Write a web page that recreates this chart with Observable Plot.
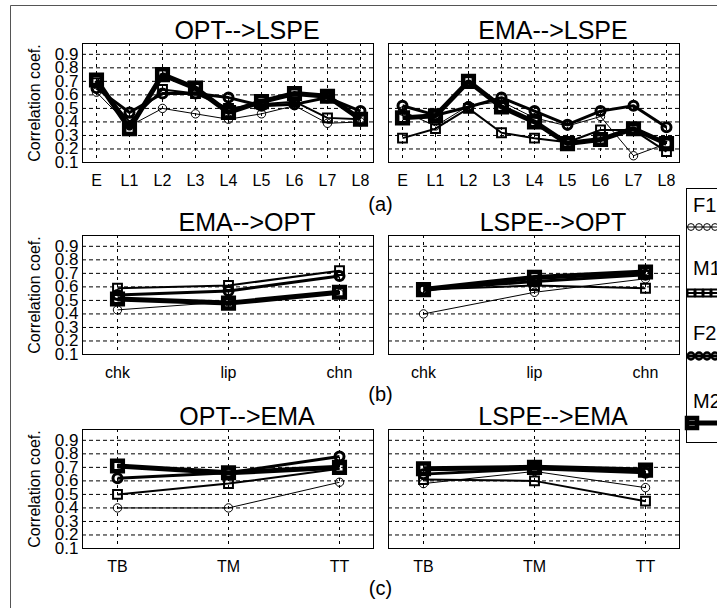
<!DOCTYPE html>
<html><head><meta charset="utf-8">
<script src="https://cdn.jsdelivr.net/npm/d3@7"></script>
<script src="https://cdn.jsdelivr.net/npm/@observablehq/plot@0.6"></script>
<style>
html,body{margin:0;padding:0;background:#fff;}
#root{position:relative;width:717px;height:608px;overflow:hidden;background:#fff;font-family:"Liberation Sans",Arial,sans-serif;}
#root svg{overflow:visible;}
</style></head><body><div id="root"></div>
<script>
// ---- data ----
const catsA = ["E","L1","L2","L3","L4","L5","L6","L7","L8"];
const catsB = ["chk","lip","chn"];
const catsC = ["TB","TM","TT"];
const seriesNames = ["F1","M1","F2","M2"];
const yTicks = [0.1,0.2,0.3,0.4,0.5,0.6,0.7,0.8,0.9];
const gridVals = [0.2,0.3,0.4,0.5,0.6,0.7,0.8,0.9];

const optToLspe = {
  F1: [0.62,0.37,0.50,0.46,0.42,0.46,0.52,0.39,0.40],
  M1: [0.69,0.40,0.64,0.61,0.50,0.53,0.55,0.43,0.42],
  F2: [0.65,0.47,0.61,0.61,0.58,0.52,0.53,0.58,0.48],
  M2: [0.71,0.35,0.75,0.65,0.47,0.55,0.61,0.59,0.42]
};
const emaToLspe = {
  F1: [0.48,0.37,0.52,0.55,0.43,0.37,0.44,0.15,0.24],
  M1: [0.28,0.35,0.50,0.32,0.28,0.25,0.34,0.34,0.18],
  F2: [0.52,0.45,0.51,0.58,0.48,0.38,0.48,0.52,0.36],
  M2: [0.43,0.445,0.70,0.51,0.40,0.24,0.27,0.35,0.24]
};
const emaToOpt = {
  F1: [0.43,0.49,0.55],
  M1: [0.59,0.61,0.72],
  F2: [0.54,0.57,0.68],
  M2: [0.51,0.48,0.56]
};
const lspeToOpt = {
  F1: [0.40,0.56,0.66],
  M1: [0.58,0.61,0.59],
  F2: [0.58,0.64,0.69],
  M2: [0.58,0.67,0.71]
};
const optToEma = {
  F1: [0.40,0.40,0.59],
  M1: [0.50,0.58,0.69],
  F2: [0.62,0.66,0.78],
  M2: [0.71,0.66,0.70]
};
const lspeToEma = {
  F1: [0.58,0.67,0.55],
  M1: [0.61,0.60,0.45],
  F2: [0.65,0.69,0.66],
  M2: [0.69,0.70,0.68]
};

// ---- styles ----
const styles = {
  F1: {w:1, symbol:"circle", r:4.2, mw:1},
  M1: {w:2, symbol:"square", r:5.0, mw:2},
  F2: {w:3, symbol:"circle", r:4.5, mw:3},
  M2: {w:5, symbol:"square", r:6.0, mw:4.5}
};
const FONT = "Liberation Sans, Arial, sans-serif";
const root = document.getElementById("root");

function panel({title, cats, values, frameLeft, frameTop, showY}) {
  const rows = [];
  seriesNames.forEach(s => values[s].forEach((v,i) => rows.push({series:s, cat:cats[i], v})));
  const ML = showY ? frameLeft : 10, MT = 40, MB = 30, MR = 6;
  const marks = [
    Plot.gridX(cats, {stroke:"black", strokeOpacity:1, strokeWidth:1, strokeDasharray:"3,4"}),
    Plot.gridY(gridVals, {stroke:"black", strokeOpacity:1, strokeWidth:1, strokeDasharray:"4,3"}),
    Plot.frame({stroke:"black", strokeWidth:1}),
    Plot.axisX({tickSize:0, tickPadding:12, fontSize:16, label:null}),
    Plot.text([title], {text:d=>d, frameAnchor:"top", textAnchor:"middle", dx:19, dy:-5, lineAnchor:"bottom", fontSize:25})
  ];
  if (showY) {
    marks.push(Plot.axisY({ticks:yTicks, tickFormat:d3.format(".1f"), tickSize:0, tickPadding:4, fontSize:17, label:null}));
    marks.push(Plot.text(["Correlation coef."], {text:d=>d, frameAnchor:"left", textAnchor:"middle", dx:-43, rotate:-90, lineAnchor:"bottom", fontSize:16}));
  } else {
    marks.push(Plot.axisY({ticks:[], tickSize:0, label:null}));
  }
  seriesNames.forEach(s => {
    const st = styles[s];
    const d = rows.filter(r => r.series === s);
    marks.push(Plot.line(d, {x:"cat", y:"v", stroke:"black", strokeWidth:st.w, strokeLinejoin:"miter", strokeLinecap:"butt"}));
    marks.push(Plot.dot(d, {x:"cat", y:"v", symbol:st.symbol, r:st.r, stroke:"black", fill:"none", strokeWidth:st.mw}));
  });
  const svg = Plot.plot({
    width: ML + 291 + MR, height: MT + 119 + MB,
    marginLeft: ML, marginRight: MR, marginTop: MT, marginBottom: MB,
    x: {type:"point", domain:cats, padding:0.3},
    y: {domain:[0.1, 0.98]},
    style: {background:"transparent", fontFamily:FONT, color:"black", overflow:"visible"},
    marks
  });
  svg.style.position = "absolute";
  svg.style.left = (frameLeft - ML + 0.5) + "px";
  svg.style.top = (frameTop - MT + 0.5) + "px";
  svg.style.maxWidth = "none";
  root.appendChild(svg);
}

const L = 81, R = 387, T1 = 42, T2 = 234, T3 = 428;
panel({title:"OPT-->LSPE", cats:catsA, values:optToLspe, frameLeft:L, frameTop:T1, showY:true});
panel({title:"EMA-->LSPE", cats:catsA, values:emaToLspe, frameLeft:R, frameTop:T1, showY:false});
panel({title:"EMA-->OPT", cats:catsB, values:emaToOpt, frameLeft:L, frameTop:T2, showY:true});
panel({title:"LSPE-->OPT", cats:catsB, values:lspeToOpt, frameLeft:R, frameTop:T2, showY:false});
panel({title:"OPT-->EMA", cats:catsC, values:optToEma, frameLeft:L, frameTop:T3, showY:true});
panel({title:"LSPE-->EMA", cats:catsC, values:lspeToEma, frameLeft:R, frameTop:T3, showY:false});

// ---- overlay: figure border, sub-labels, legend ----
const ov = d3.create("svg").attr("width",717).attr("height",608)
  .style("position","absolute").style("left","0px").style("top","0px")
  .style("font-family", FONT);
ov.append("path").attr("d","M10.5,608V5.5H717").attr("fill","none").attr("stroke","#555");
[["(a)",211],["(b)",401],["(c)",595]].forEach(([t,y]) => {
  ov.append("text").attr("x",380.5).attr("y",y).attr("text-anchor","middle").attr("font-size",20).text(t);
});
const lg = ov.append("g");
lg.append("rect").attr("x",686.5).attr("y",188.5).attr("width",60).attr("height",254).attr("fill","white").attr("stroke","black");
const legendRows = [
  {s:"F1", ty:212, ly:227},
  {s:"M1", ty:275, ly:293},
  {s:"F2", ty:340, ly:356},
  {s:"M2", ty:408, ly:423}
];
legendRows.forEach(({s,ty,ly}) => {
  const st = styles[s];
  lg.append("text").attr("x",693).attr("y",ty).attr("font-size",20).text(s);
  lg.append("line").attr("x1",687).attr("x2",717).attr("y1",ly).attr("y2",ly).attr("stroke","black").attr("stroke-width",st.w);
  const xs = s === "M2" ? [692] : [691,699,707,715];
  xs.forEach(x => {
    if (st.symbol === "circle") {
      lg.append("circle").attr("cx",x).attr("cy",ly).attr("r",3.4).attr("fill","none").attr("stroke","black").attr("stroke-width", s==="F2"?2.5:1);
    } else {
      const h = s === "M2" ? 5 : 3.5;
      lg.append("rect").attr("x",x-h).attr("y",ly-h).attr("width",2*h).attr("height",2*h).attr("fill","none").attr("stroke","black").attr("stroke-width", s==="M2"?4.5:2);
    }
  });
});
root.appendChild(ov.node());
</script></body></html>
